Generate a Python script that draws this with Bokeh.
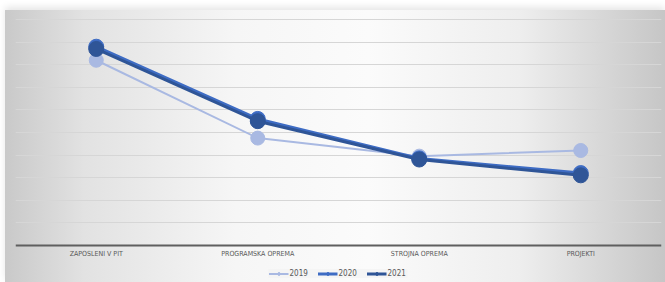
from bokeh.plotting import figure
from bokeh.models import Legend, LegendItem, FactorRange, Range1d, FixedTicker
from bokeh.embed import file_html
from bokeh.resources import INLINE

categories = ["ZAPOSLENI V PIT", "PROGRAMSKA OPREMA", "STROJNA OPREMA", "PROJEKTI"]
v2019 = [8.2, 4.75, 3.95, 4.2]
v2020 = [8.8, 5.6, 3.85, 3.2]
v2021 = [8.7, 5.5, 3.8, 3.1]
series_names = ["2019", "2020", "2021"]
colors = ["#a9b9e2", "#3e6cc4", "#2f5597"]

FONT = "DejaVu Sans Condensed"

p = figure(x_range=FactorRange(*categories), y_range=Range1d(-1.65, 10.05),
           width=660, height=272, output_backend="svg", toolbar_location=None,
           min_border_left=10, min_border_right=4, min_border_top=8, min_border_bottom=0)
p.margin = (10, 0, 0, 5)
p.background_fill_color = None
p.border_fill_color = None
p.outline_line_color = None
p.styles = {"background": "linear-gradient(to right, #c9c9c9 0%, #e2e2e2 12%, #f6f6f6 35%, #fbfbfb 55%, #eeeeee 78%, #c6c6c6 100%)",
            "box-shadow": "0px -3px 7px rgba(0,0,0,0.10)"}

p.yaxis.visible = False
p.ygrid.grid_line_color = "#d6d6d6"
p.ygrid.grid_line_width = 1
p.ygrid.ticker = FixedTicker(ticks=list(range(1, 11)))
p.xgrid.grid_line_color = None

ax = p.xaxis[0]
ax.fixed_location = 0
ax.axis_line_color = "#5f5f5f"
ax.axis_line_width = 2
ax.major_tick_line_color = None
ax.minor_tick_line_color = None
ax.major_tick_out = 0
ax.major_tick_in = 0
ax.major_label_text_font = FONT
ax.major_label_text_font_size = "7px"
ax.major_label_text_color = "#595959"
ax.major_label_standoff = 5

items = []
for name, vals, col, lw, sz in zip(series_names, [v2019, v2020, v2021], colors, [2, 3, 3], [14, 15, 15]):
    r1 = p.line(categories, vals, line_color=col, line_width=lw)
    r2 = p.scatter(categories, vals, size=sz, fill_color=col, line_color=col)
    items.append(LegendItem(label=name, renderers=[r1, r2]))

legend = Legend(items=items, orientation="horizontal", location="bottom_center")
legend.background_fill_color = "#f2f2f2"
legend.background_fill_alpha = 0.6
legend.border_line_color = None
legend.label_text_font = FONT
legend.label_text_font_size = "8px"
legend.label_text_color = "#595959"
legend.glyph_width = 20
legend.glyph_height = 7
legend.label_height = 7
legend.label_standoff = 1
legend.spacing = 8
legend.padding = 3
legend.margin = 4
p.add_layout(legend)

open("out.html", "w").write(file_html(p, INLINE))
